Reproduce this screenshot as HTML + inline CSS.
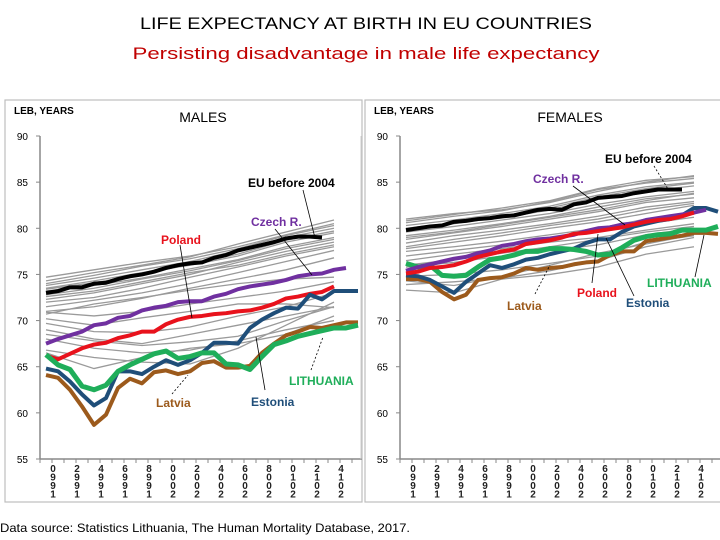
<!DOCTYPE html>
<html><head><meta charset="utf-8"><style>
html,body{margin:0;padding:0;background:#fff;}
svg{display:block;font-family:"Liberation Sans",sans-serif;}
</style></head><body>
<svg id="root" width="720" height="540" viewBox="0 0 720 540">
<text x="366" y="29" text-anchor="middle" font-size="17" fill="#000" textLength="452" lengthAdjust="spacingAndGlyphs">LIFE EXPECTANCY AT BIRTH IN EU COUNTRIES</text>
<text x="366" y="59" text-anchor="middle" font-size="17" fill="#c00000" textLength="467" lengthAdjust="spacingAndGlyphs">Persisting disadvantage in male life expectancy</text>
<text x="0" y="532" font-size="12" fill="#000" textLength="410" lengthAdjust="spacingAndGlyphs">Data source: Statistics Lithuania, The Human Mortality Database, 2017.</text>
<g id="males"></g>
<g id="females"></g>
</svg>
<script>
const years = [1990,1991,1992,1993,1994,1995,1996,1997,1998,1999,2000,2001,2002,2003,2004,2005,2006,2007,2008,2009,2010,2011,2012,2013,2014,2015,2016];
const yTicks = [55,60,65,70,75,80,85,90];
const xLabelYears = [1990,1992,1994,1996,1998,2000,2002,2004,2006,2008,2010,2012,2014,2016];
const greyYears = [1990,1994,1998,2002,2006,2010,2014];

const mEU = [73.0,73.2,73.6,73.6,74.0,74.1,74.5,74.8,75.0,75.3,75.7,76.0,76.2,76.3,76.8,77.1,77.6,77.9,78.2,78.5,78.9,79.1,79.1,79.0];
const mCzech = [67.5,68.0,68.4,68.8,69.5,69.7,70.3,70.5,71.1,71.4,71.6,72.0,72.1,72.1,72.6,72.9,73.4,73.7,73.9,74.1,74.4,74.8,75.0,75.1,75.5,75.7];
const mPoland = [66.2,65.8,66.4,67.0,67.4,67.6,68.1,68.4,68.8,68.8,69.6,70.1,70.4,70.5,70.7,70.8,71.0,71.1,71.4,71.8,72.4,72.6,72.9,73.1,73.7];
const mEstonia = [64.8,64.5,63.4,62.0,60.8,61.6,64.5,64.5,64.2,65.0,65.7,65.2,65.7,66.5,67.6,67.6,67.5,69.2,70.1,70.8,71.4,71.3,72.8,72.3,73.2,73.2,73.2];
const mLatvia = [64.1,63.8,62.5,60.7,58.7,59.8,62.7,63.7,63.2,64.4,64.6,64.2,64.5,65.4,65.6,64.9,64.9,65.1,66.5,67.5,68.4,68.8,69.3,69.2,69.5,69.8,69.8];
const mLithuania = [66.3,65.2,64.7,62.9,62.5,63.0,64.5,65.2,65.8,66.4,66.7,65.9,66.1,66.5,66.5,65.3,65.2,64.7,66.1,67.4,67.8,68.3,68.6,68.9,69.2,69.2,69.5];
const mGrey = [
[74.7,75.5,76.3,77.0,78.0,79.3,80.5],[74.3,75.2,76.0,76.9,78.3,79.6,80.9],[73.8,74.6,75.5,76.4,77.6,79.0,80.0],
[73.5,74.3,75.2,76.0,77.0,78.5,79.5],[73.2,73.8,74.6,75.6,76.6,78.0,79.0],[72.8,73.5,74.5,75.4,76.5,77.8,78.8],
[72.3,73.0,74.0,75.0,76.3,77.5,78.5],[72.0,72.5,73.5,74.7,75.8,77.0,78.0],[71.0,71.5,72.4,73.5,74.5,75.5,76.8],
[70.7,71.8,72.5,73.3,74.0,74.5,74.7],[70.2,69.5,70.3,71.0,71.8,71.8,71.4],[69.7,68.8,68.7,69.3,70.5,71.5,73.0],
[68.5,67.8,67.3,67.7,68.3,70.0,71.5],[66.8,66.0,65.5,65.3,67.0,69.5,72.0],[69.0,68.0,67.5,68.5,69.5,70.5,71.5],
[66.5,64.8,66.0,67.0,67.5,68.5,70.5],[74.0,74.9,75.9,76.7,77.8,79.2,80.3],[73.4,74.1,75.0,76.1,77.2,78.7,79.7],
[72.6,73.2,74.2,75.2,76.0,77.2,78.2],[71.5,72.2,73.0,74.0,75.2,76.4,77.6],[70.9,70.5,71.0,71.8,72.5,73.2,74.2],
[68.0,67.0,66.5,66.8,67.8,69.0,70.0]];

const fEU = [79.8,80.0,80.2,80.3,80.7,80.8,81.0,81.1,81.3,81.4,81.7,82.0,82.1,82.0,82.6,82.8,83.3,83.4,83.5,83.8,84.0,84.2,84.2,84.2];
const fCzech = [75.4,75.8,76.1,76.4,76.7,76.9,77.3,77.6,78.1,78.3,78.6,78.8,78.9,79.1,79.3,79.7,80.0,80.1,80.4,80.5,80.9,81.1,81.3,81.5,81.7,82.0];
const fPoland = [75.1,75.3,75.7,75.8,76.0,76.4,76.9,77.2,77.5,77.7,78.3,78.5,78.7,79.0,79.4,79.5,79.7,79.9,80.1,80.4,80.7,80.9,81.0,81.3,81.7];
const fEstonia = [74.9,74.8,74.4,73.7,73.0,74.2,75.1,76.0,75.7,76.1,76.6,76.8,77.2,77.5,77.8,78.4,78.8,78.8,79.6,80.2,80.5,80.8,81.0,81.4,82.2,82.2,81.8];
const fLatvia = [74.5,74.5,74.2,73.1,72.3,72.8,74.4,74.6,74.7,75.1,75.7,75.5,75.7,75.8,76.1,76.3,76.4,77.1,77.5,77.5,78.6,78.8,79.0,79.2,79.5,79.5,79.4];
const fLithuania = [76.2,75.8,76.0,74.9,74.8,74.9,75.8,76.6,76.8,77.1,77.5,77.5,77.8,77.8,77.7,77.5,77.1,77.2,77.9,78.7,79.1,79.3,79.4,79.8,79.8,79.8,80.2];
const fGrey = [
[81.0,81.6,82.0,82.8,84.0,85.0,85.7],[80.6,81.3,81.9,82.9,84.2,84.9,85.4],[80.3,80.9,81.6,82.4,83.6,84.5,85.0],
[80.0,80.6,81.1,82.0,83.2,84.0,84.6],[79.6,80.2,80.9,81.6,82.6,83.4,84.0],[79.2,79.8,80.5,81.3,82.3,83.2,83.7],
[78.8,79.5,80.2,81.0,81.8,82.8,83.3],[78.4,79.2,79.8,80.5,81.3,82.3,82.9],[77.8,78.5,79.2,80.0,80.7,81.6,82.5],
[77.5,78.0,78.6,79.3,80.0,81.0,81.7],[76.5,77.2,77.8,78.5,79.0,79.8,80.5],[75.8,76.3,77.0,77.6,78.2,79.3,80.0],
[74.8,75.0,75.5,76.2,77.0,78.5,79.2],[73.9,74.2,74.6,75.4,76.5,78.0,79.0],[73.3,73.0,74.5,75.0,75.8,77.2,78.0],
[74.3,73.8,74.8,76.0,77.3,78.3,79.3],[80.8,81.5,82.2,83.0,84.3,85.2,85.6],[79.9,80.5,81.3,82.2,83.4,84.3,84.9],
[79.0,79.6,80.4,81.2,82.0,83.0,83.8],[78.0,78.8,79.5,80.3,81.0,82.0,82.7],[77.0,77.6,78.2,78.9,79.6,80.5,81.2],
[76.0,76.6,77.3,78.0,78.8,79.6,80.2]];

const NS = "http://www.w3.org/2000/svg";
function mk(tag, attrs, parent){const e=document.createElementNS(NS,tag);for(const k in attrs)e.setAttribute(k,attrs[k]);parent.appendChild(e);return e;}

function panel(g, ox, title, titleX, series, grey, notes, pname){
  const X0 = ox + 40, Y90 = 136, Y55 = 459;
  const yS = v => Y90 + (90 - v) * (Y55 - Y90) / 35;
  const xS = yr => ox + 46 + 12 * (yr - 1990);
  const box = mk('rect',{x:ox+5,y:100,width:357,height:402,fill:'#fff',stroke:'#bdbdbd','stroke-width':1.2},g);
   
  const lb = mk('text',{x:ox+14,y:114,'font-size':10,'font-weight':'bold',fill:'#000'},g); lb.textContent='LEB, YEARS';
   
  const tt = mk('text',{x:titleX,y:122,'font-size':14,fill:'#000','text-anchor':'middle'},g); tt.textContent=title;
   
  const ya = mk('line',{x1:X0,y1:Y90,x2:X0,y2:Y55,stroke:'#888','stroke-width':1.5},g);
   
  const xa = mk('line',{x1:X0,y1:Y55,x2:ox+362,y2:Y55,stroke:'#888','stroke-width':1.5},g);
   
  const tr = mk('line',{x1:ox+361,y1:Y90,x2:ox+361,y2:Y55,stroke:'#ccc','stroke-width':1},g);
   
  yTicks.forEach(v=>{
    const t = mk('line',{x1:X0-4,y1:yS(v),x2:X0,y2:yS(v),stroke:'#888'},g);
     
    const l = mk('text',{x:X0-12,y:yS(v)+4,'font-size':10,fill:'#000','text-anchor':'end'},g); l.textContent=v;
     
  });
  for(let yr=1990; yr<=2017; yr++){
    const x = xS(yr)-6;
    if (x > ox+362) break;
    const t = mk('line',{x1:x,y1:Y55,x2:x,y2:Y55+4,stroke:'#888'},g);
     
  }
  xLabelYears.forEach(yr=>{
    const s = String(yr).split('').reverse();
    const x = xS(yr)+7;
    if (x > ox+364) return;
    const t = mk('text',{x:x,y:472,'font-size':10,'font-weight':'bold',fill:'#222','text-anchor':'middle'},g);
     
    s.forEach((c,i)=>{const sp=mk('tspan',{x:x,y:472+i*8.5},t); sp.textContent=c;});
  });
  grey.forEach(arr=>{
    const pts = arr.map((v,i)=>xS(greyYears[i])+','+yS(v)).join(' ');
    const p = mk('polyline',{points:pts,fill:'none',stroke:'#9a9a9a','stroke-width':1.3},g);
     
  });
  series.forEach(s=>{
    const pts = s.data.map((v,i)=>xS(years[i])+','+yS(v)).join(' ');
    const p = mk('polyline',{points:pts,fill:'none',stroke:s.color,'stroke-width':s.w,'stroke-linejoin':'round'},g);
     
  });
  notes.forEach(n=>{
    const a = mk('line',{x1:ox+n.ax1,y1:n.ay1,x2:ox+n.ax2,y2:n.ay2,stroke:'#000','stroke-width':0.8,'stroke-dasharray':n.dash||'none'},g);
     
    const t = mk('text',{x:ox+n.x,y:n.y,'font-size':12,'font-weight':'bold',fill:n.color},g); t.textContent=n.text;
     
  });
}

panel(document.getElementById('males'), 0, 'MALES', 203, [
  {data:mCzech,color:'#7030a0',w:4,name:'czech-males-line'},
  {data:mPoland,color:'#e8121c',w:4,name:'poland-males-line'},
  {data:mLatvia,color:'#9c5a1c',w:4,name:'latvia-males-line'},
  {data:mEstonia,color:'#1f4e79',w:4,name:'estonia-males-line'},
  {data:mLithuania,color:'#1fae5a',w:5,name:'lithuania-males-line'},
  {data:mEU,color:'#000',w:4,name:'eu-males-line'}
], mGrey, [
  {text:'EU before 2004',x:248,y:187,color:'#000',ax1:303,ay1:190,ax2:315,ay2:238,name:'eu-males'},
  {text:'Czech R.',x:251,y:226,color:'#7030a0',ax1:275,ay1:229,ax2:312,ay2:275,name:'czech-males'},
  {text:'Poland',x:161,y:244,color:'#e8121c',ax1:180,ay1:245,ax2:192,ay2:318,name:'poland-males'},
  {text:'LITHUANIA',x:289,y:385,color:'#1fae5a',ax1:311,ay1:370,ax2:323,ay2:337,name:'lithuania-males',dash:'2,2'},
  {text:'Latvia',x:156,y:407,color:'#9c5a1c',ax1:172,ay1:394,ax2:188,ay2:375,name:'latvia-males',dash:'2,2'},
  {text:'Estonia',x:251,y:406,color:'#1f4e79',ax1:265,ay1:390,ax2:256,ay2:337,name:'estonia-males'}
], 'males');

panel(document.getElementById('females'), 360, 'FEMALES', 570, [
  {data:fLatvia,color:'#9c5a1c',w:4,name:'latvia-females-line'},
  {data:fEstonia,color:'#1f4e79',w:4,name:'estonia-females-line'},
  {data:fLithuania,color:'#1fae5a',w:5,name:'lithuania-females-line'},
  {data:fCzech,color:'#7030a0',w:4,name:'czech-females-line'},
  {data:fPoland,color:'#e8121c',w:4,name:'poland-females-line'},
  {data:fEU,color:'#000',w:4,name:'eu-females-line'}
], fGrey, [
  {text:'EU before 2004',x:245,y:163,color:'#000',ax1:294,ay1:166,ax2:308,ay2:189,name:'eu-females',dash:'2,2'},
  {text:'Czech R.',x:173,y:183,color:'#7030a0',ax1:213,ay1:186,ax2:265,ay2:225,name:'czech-females'},
  {text:'LITHUANIA',x:287,y:287,color:'#1fae5a',ax1:335,ay1:277,ax2:344,ay2:235,name:'lithuania-females'},
  {text:'Poland',x:217,y:297,color:'#e8121c',ax1:232,ay1:283,ax2:238,ay2:234,name:'poland-females'},
  {text:'Estonia',x:266,y:307,color:'#1f4e79',ax1:274,ay1:296,ax2:246,ay2:238,name:'estonia-females'},
  {text:'Latvia',x:147,y:310,color:'#9c5a1c',ax1:175,ay1:294,ax2:190,ay2:265,name:'latvia-females',dash:'2,2'}
], 'females');
</script>
</body></html>
